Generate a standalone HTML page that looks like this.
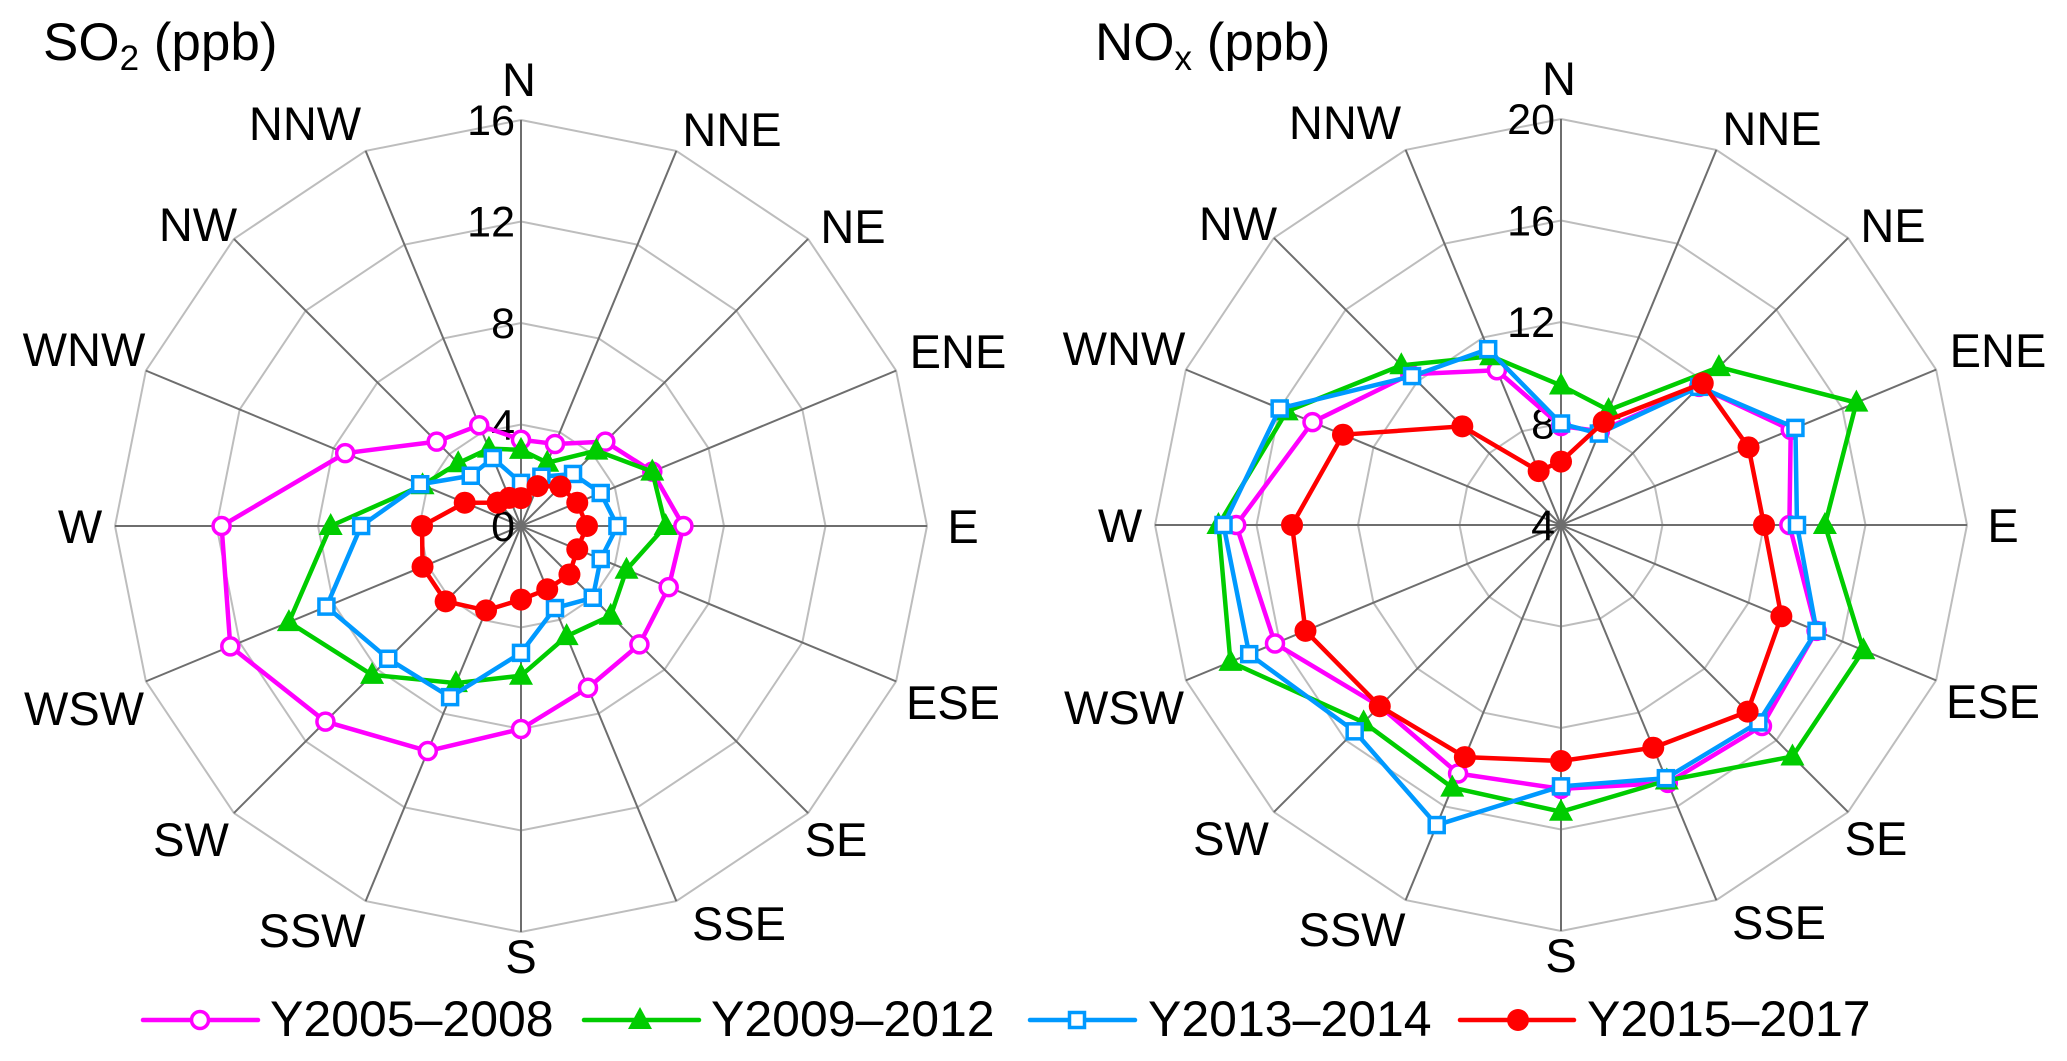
<!DOCTYPE html>
<html><head><meta charset="utf-8"><style>
html,body{margin:0;padding:0;background:#fff;}
svg{display:block;font-family:"Liberation Sans",Arial,sans-serif;}
</style></head><body>
<svg id="chart" width="2067" height="1061" viewBox="0 0 2067 1061" xmlns="http://www.w3.org/2000/svg">
<rect width="2067" height="1061" fill="#fff"/>
<text x="43" y="60" font-size="53">SO<tspan font-size="35" dy="10">2</tspan><tspan dy="-10"> (ppb)</tspan></text>
<text x="1095" y="60" font-size="53">NO<tspan font-size="35" dy="10">x</tspan><tspan dy="-10"> (ppb)</tspan></text>
<g id="left"></g>
<g id="right"></g>
<g id="legend"></g>
</svg>
<script>
const directions = ["N","NNE","NE","ENE","E","ESE","SE","SSE","S","SSW","SW","WSW","W","WNW","NW","NNW"];
const seriesNames = ["Y2005\u20132008","Y2009\u20132012","Y2013\u20132014","Y2015\u20132017"];
const so2Ticks = [0,4,8,12,16];
const noxTicks = [4,8,12,16,20];
const so2_2005 = [3.4,3.5,4.7,5.6,6.4,6.3,6.6,6.9,8.0,9.6,10.9,12.4,11.8,7.5,4.7,4.3];
const so2_2009 = [3.0,2.7,4.2,5.6,5.7,4.5,5.0,4.7,5.9,6.7,8.3,9.9,7.5,4.2,3.5,3.3];
const so2_2013 = [1.7,2.1,2.9,3.4,3.8,3.4,4.0,3.5,5.0,7.3,7.4,8.3,6.3,4.3,2.8,2.9];
const so2_2015 = [1.1,1.7,2.2,2.4,2.6,2.4,2.7,2.7,2.9,3.6,4.2,4.2,3.9,2.4,1.3,1.2];
const nox_2005 = [7.9,8.0,11.7,13.8,13.0,14.9,15.2,15.0,14.4,14.6,14.1,16.2,16.8,14.6,12.4,10.6];
const nox_2009 = [9.5,8.9,12.8,16.6,14.4,16.9,16.9,14.9,15.3,15.2,15.0,18.1,17.5,15.7,12.9,11.2];
const nox_2013 = [8.0,7.9,11.7,14.0,13.3,14.9,15.0,14.8,14.3,16.8,15.5,17.3,17.3,16.0,12.3,11.5];
const nox_2015 = [6.5,8.4,11.9,12.0,12.0,13.4,14.4,13.5,13.3,13.9,14.1,14.9,14.6,13.3,9.5,6.3];

const NS="http://www.w3.org/2000/svg";
const R=406;
const colors=["#ff00ff","#00cc00","#0099ff","#ff0000"];
const markers=["circle","triangle","square","dot"];
const labelOff=[[-2,-447],[211,-397],[332,-300],[437,-175],[442,0],[432,176],[315,313],[218,397],[0,430],[-209,404],[-330,313],[-437,182],[-441,0],[-437,-177],[-323,-302],[-216,-403]];
function mk(tag,attrs,parent){const e=document.createElementNS(NS,tag);for(const k in attrs)e.setAttribute(k,attrs[k]);parent.appendChild(e);return e;}
function drawMarker(g,type,x,y,color){
  let m;
  if(type==="circle") m=mk("circle",{cx:x,cy:y,r:8.5,fill:"#fff",stroke:color,"stroke-width":3.5},g);
  else if(type==="triangle") m=mk("polygon",{points:`${x},${y-13} ${x+12},${y+9} ${x-12},${y+9}`,fill:color},g);
  else if(type==="square") m=mk("rect",{x:x-7.5,y:y-7.5,width:15,height:15,fill:"#fff",stroke:color,"stroke-width":3.5},g);
  else m=mk("circle",{cx:x,cy:y,r:11,fill:color},g);
  return m;
}
function radar(gid,cx,cy,ticks,series,prefix){
  const g=document.getElementById(gid);
  const vmin=ticks[0],vmax=ticks[ticks.length-1];
  const rad=v=>(v-vmin)/(vmax-vmin)*R;
  const pt=(i,v)=>{const a=i*2*Math.PI/16;const r=rad(v);return [cx+r*Math.sin(a),cy-r*Math.cos(a)];};
  for(let t=1;t<ticks.length;t++){
    const pts=directions.map((d,i)=>pt(i,ticks[t]).join(",")).join(" ");
    const ring=mk("polygon",{points:pts,fill:"none",stroke:"#bdbdbd","stroke-width":2},g);
    
    
  }
  directions.forEach((d,i)=>{
    const p=pt(i,vmax);
    const sp=mk("line",{x1:cx,y1:cy,x2:p[0],y2:p[1],stroke:"#6e6e6e","stroke-width":2},g);
    
    
    const tx=mk("text",{x:cx+labelOff[i][0],y:cy+labelOff[i][1]+17,"font-size":47,"text-anchor":"middle"},g);
    tx.textContent=d;
    
    
  });
  ticks.forEach(t=>{
    const tx=mk("text",{x:cx-6,y:cy-rad(t)+15,"font-size":43,"text-anchor":"end"},g);
    tx.textContent=t;
    
    
  });
  series.forEach((vals,s)=>{
    const sg=mk("g",{},g);
    
    
    const pts=vals.map((v,i)=>pt(i,v).join(",")).join(" ");
    const pl=mk("polygon",{points:pts,fill:"none",stroke:colors[s],"stroke-width":4.5,"stroke-linejoin":"round"},sg);
    
    
    vals.forEach((v,i)=>{
      const p=pt(i,v);
      const m=drawMarker(sg,markers[s],p[0],p[1],colors[s]);
      
      
    });
  });
}
radar("left",521,526,so2Ticks,[so2_2005,so2_2009,so2_2013,so2_2015],"so2");
radar("right",1561,525,noxTicks,[nox_2005,nox_2009,nox_2013,nox_2015],"nox");
const lg=document.getElementById("legend");
const legX=[[143,258,200,270],[584,699,640,711],[1030,1135,1077,1148],[1460,1574,1518,1587]];
seriesNames.forEach((n,s)=>{
  const e=mk("g",{},lg);
  
  
  mk("line",{x1:legX[s][0],y1:1020,x2:legX[s][1],y2:1020,stroke:colors[s],"stroke-width":4.5,"stroke-linecap":"round"},e);
  drawMarker(e,markers[s],legX[s][2],1020,colors[s]);
  const t=mk("text",{x:legX[s][3],y:1036,"font-size":50},e);
  t.textContent=n;
});
</script>
</body></html>
